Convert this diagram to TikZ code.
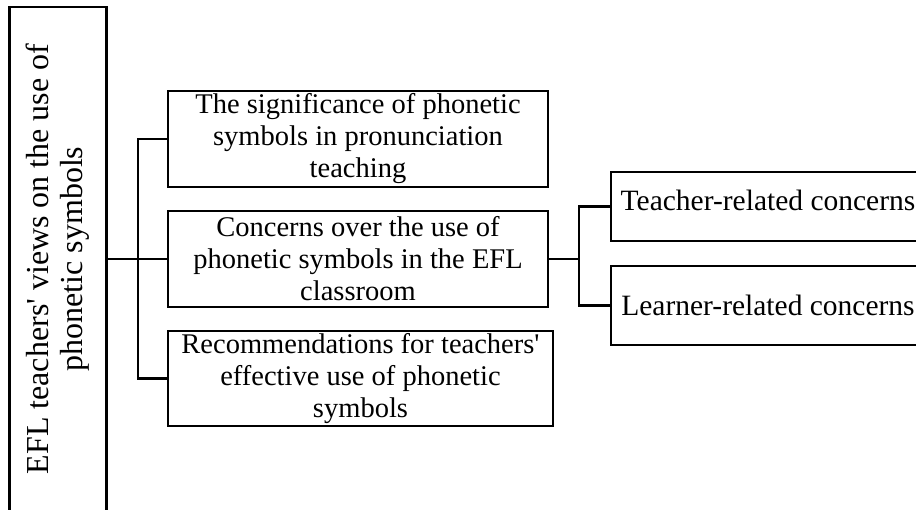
\documentclass[tikz,border=0pt]{standalone}
\usepackage{fontspec}
\setmainfont{Liberation Serif}
\begin{document}
\begin{tikzpicture}[x=1pt,y=-1pt,
  box/.style={draw, line width=2.2pt, align=center, inner sep=0pt,
    font=\fontsize{28.5}{32}\selectfont},
  conn/.style={line width=2.2pt}]
\useasboundingbox (0,0) rectangle (916,509);
\clip (0,0) rectangle (916,509);
\node[box, rotate=90, minimum width=504, minimum height=97,
  font=\fontsize{32}{34}\selectfont] (root) at (58,259)
  {EFL teachers\textquotesingle{} views on the use of\\phonetic symbols};
\node[box, minimum width=380, minimum height=96] (b1) at (358,139)
  {The significance of phonetic\\symbols in pronunciation\\teaching};
\node[box, minimum width=380, minimum height=96] (b2) at (358,259)
  {Concerns over the use of\\phonetic symbols in the EFL\\classroom};
\node[box, minimum width=385, minimum height=95] (b3) at (360.5,378.5)
  {Recommendations for teachers\textquotesingle\\effective use of phonetic\\symbols};
\node[box, minimum width=314, minimum height=69, text depth=12pt,
  font=\fontsize{29.5}{32}\selectfont] (t1) at (768,206.5)
  {Teacher-related concerns};
\node[box, minimum width=314, minimum height=79,
  font=\fontsize{29.5}{32}\selectfont] (t2) at (768,305.5)
  {Learner-related concerns};
\coordinate (trunk) at (138,259);
\coordinate (fork) at (579,259);
\draw[conn] (root.south |- b2.west) -- (b2.west);
\draw[conn] (b1.west) -| (trunk) |- (b3.west);
\draw[conn] (b2.east) -- (fork);
\draw[conn] (t1.west) -| (fork) |- (t2.west);
\end{tikzpicture}
\end{document}
